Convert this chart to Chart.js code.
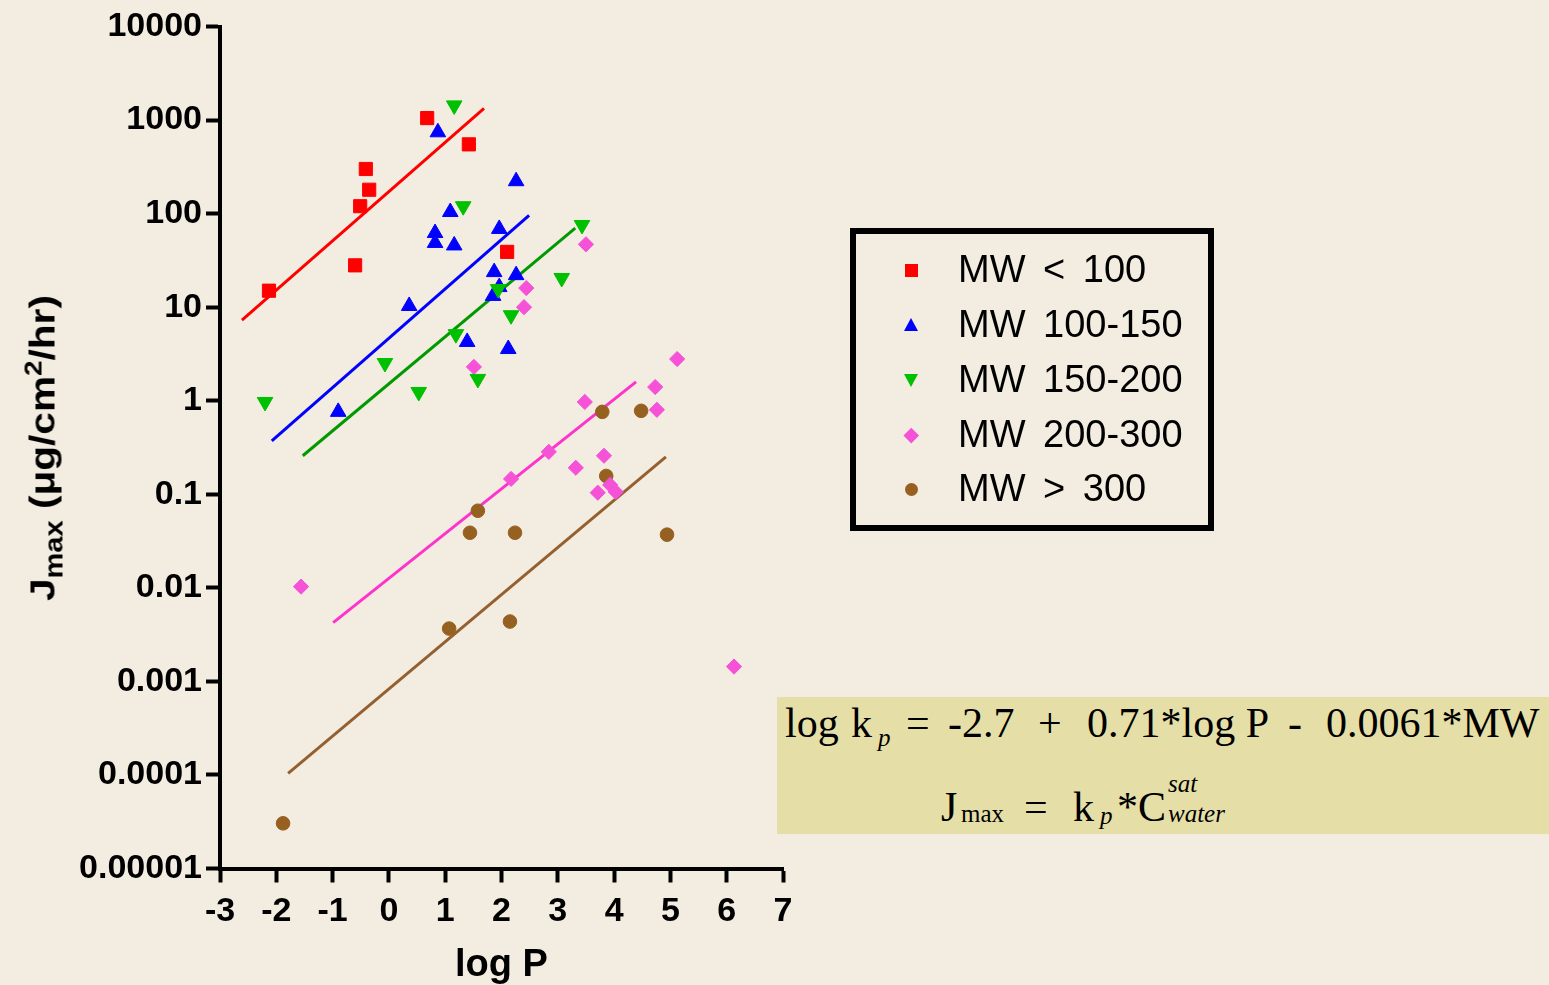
<!DOCTYPE html>
<html>
<head>
<meta charset="utf-8">
<script src="https://cdn.jsdelivr.net/npm/chart.js@4.4.1/dist/chart.umd.min.js"></script>
<style>
html,body{margin:0;padding:0;background:#f3ece0;}
#wrap{position:relative;width:1549px;height:985px;overflow:hidden;background:#f3ece0;}
#c{position:absolute;left:0;top:0;}
#ytitle{position:absolute;left:42px;top:448px;transform:translate(-50%,-50%) rotate(-90deg) scaleX(1.16);white-space:nowrap;
  font-family:"Liberation Sans",Arial,sans-serif;font-weight:bold;font-size:35px;color:#000;line-height:1;}
#ytitle .sub{font-size:25px;position:relative;top:8px;}
#ytitle .sup{font-size:24px;position:relative;top:-13px;}
#legend{position:absolute;left:850px;top:228px;width:352px;height:291px;border:6px solid #000;}
.li{position:absolute;left:0;width:352px;height:50px;}
.mk{position:absolute;}
.lt{position:absolute;left:102px;font-family:"Liberation Sans",Arial,sans-serif;font-size:38px;color:#000;white-space:pre;line-height:1;word-spacing:7px;}
#eq{position:absolute;left:777px;top:697px;width:772px;height:137px;background:#e5dfa7;}
#eq span{position:absolute;font-family:"Liberation Serif","Times New Roman",serif;color:#000;line-height:1;white-space:pre;}
.big{font-size:42px;}
.sm{font-size:25px;}
.it{font-style:italic;}
</style>
</head>
<body>
<div id="wrap">
<canvas id="c" width="1549" height="985"></canvas>
<div id="ytitle">J<span class="sub">max</span> (μg/cm<span class="sup">2</span>/hr)</div>
<div id="legend"></div>
<div id="eq">
  <span class="big" style="left:8px;top:5px">log</span>
  <span class="big" style="left:74px;top:5px">k</span>
  <span class="sm it" style="left:101px;top:28px">p</span>
  <span class="big" style="left:129px;top:5px">=</span>
  <span class="big" style="left:171px;top:5px">-2.7</span>
  <span class="big" style="left:261px;top:5px">+</span>
  <span class="big" style="left:310px;top:5px">0.71*log P</span>
  <span class="big" style="left:511px;top:5px">-</span>
  <span class="big" style="left:549px;top:5px">0.0061*MW</span>
  <span class="big" style="left:164px;top:89px">J</span>
  <span class="sm" style="left:184px;top:104px">max</span>
  <span class="big" style="left:247px;top:89px">=</span>
  <span class="big" style="left:296px;top:89px">k</span>
  <span class="sm it" style="left:323px;top:106px">p</span>
  <span class="big" style="left:340px;top:89px">*C</span>
  <span class="sm it" style="left:391px;top:74px">sat</span>
  <span class="sm it" style="left:391px;top:104px">water</span>
</div>
</div>
<script>
// ---------- data ----------
const SERIES_NAMES = ["MW < 100", "MW 100-150", "MW 150-200", "MW 200-300", "MW > 300"];

const MW100_X = [-2.13, -0.60, -0.51, -0.35, -0.41, 0.68, 1.42, 2.10];
const MW100_Y = [15, 28, 120, 180, 300, 1050, 550, 39];

const MW150_X = [0.87, 2.26, 1.09, 0.82, 0.82, 1.16, 1.96, 1.87, 2.26, 1.96, 1.85, 0.36, 1.39, 2.12, -0.90];
const MW150_Y = [740, 222, 104, 62, 48.6, 45.7, 68.6, 23.7, 22, 16.4, 13.2, 10.3, 4.25, 3.57, 0.76];

const MW200_X = [1.16, 1.32, 3.43, 3.07, 1.94, 2.17, 1.19, -0.07, -2.20, 0.53, 1.58];
const MW200_Y = [1435, 120, 75.6, 20.5, 15.6, 8.2, 5.15, 2.53, 0.97, 1.24, 1.71];

const MW300_X = [2.44, 2.40, 3.50, 1.51, 5.12, 4.73, 3.48, 4.76, 2.84, 3.82, 3.32, 2.17, 3.71, 3.93, 4.03, -1.56, 6.13];
const MW300_Y = [16.0, 10.0, 47, 2.3, 2.79, 1.40, 0.97, 0.80, 0.284, 0.258, 0.192, 0.146, 0.104, 0.126, 0.106, 0.0103, 0.00144];

const MWBIG_X = [3.79, 4.48, 3.86, 1.58, 1.44, 2.24, 4.94, 1.07, 2.15, -1.88];
const MWBIG_Y = [0.76, 0.78, 0.157, 0.0667, 0.0388, 0.0388, 0.037, 0.00367, 0.00436, 0.0000304];

// regression lines (end points)
const FIT100_X = [-2.61, 1.69];   const FIT100_Y = [7.28, 1333];
const FIT150_X = [-2.08, 2.49];   const FIT150_Y = [0.372, 96];
const FIT200_X = [-1.53, 3.31];   const FIT200_Y = [0.258, 69.9];
const FIT300_X = [-0.99, 4.39];   const FIT300_Y = [0.00425, 1.59];
const FITBIG_X = [-1.79, 4.92];   const FITBIG_Y = [0.000104, 0.251];

const X_MIN = -3, X_MAX = 7;
const Y_TICKS = [1e4, 1e3, 1e2, 1e1, 1, 0.1, 0.01, 0.001, 0.0001, 0.00001];
const Y_TICK_LABELS = ["10000", "1000", "100", "10", "1", "0.1", "0.01", "0.001", "0.0001", "0.00001"];

// ---------- styles ----------
const MARK_COLORS = ["#ff0000", "#0000ff", "#00c000", "#f552d8", "#956020"];
const LINE_COLORS = ["#ff0000", "#0000ff", "#009a00", "#ff33cc", "#956030"];
const STYLES = [
  {style: "rect", r: 9.3, rot: 0},
  {style: "triangle", r: 9.0, rot: 0},
  {style: "triangle", r: 9.0, rot: 180},
  {style: "rectRot", r: 7.6, rot: 0},
  {style: "circle", r: 6.8, rot: 0}
];

const SERIES = [
  [MW100_X, MW100_Y], [MW150_X, MW150_Y], [MW200_X, MW200_Y], [MW300_X, MW300_Y], [MWBIG_X, MWBIG_Y]
];
const FITS = [
  [FIT100_X, FIT100_Y], [FIT150_X, FIT150_Y], [FIT200_X, FIT200_Y], [FIT300_X, FIT300_Y], [FITBIG_X, FITBIG_Y]
];

const toPts = (xs, ys) => xs.map((x, i) => ({x: x, y: ys[i]}));

// point draw order: green above blue, pink above brown
const POINT_ORDER = [0, 2, 1, 3, 4];
const datasets = [];
POINT_ORDER.forEach(i => {
  const s = STYLES[i];
  datasets.push({
    label: SERIES_NAMES[i],
    data: toPts(SERIES[i][0], SERIES[i][1]),
    showLine: false,
    pointStyle: s.style,
    pointRadius: s.r,
    pointHoverRadius: s.r,
    pointRotation: s.rot,
    backgroundColor: MARK_COLORS[i],
    borderColor: MARK_COLORS[i],
    borderWidth: 1,
    order: 0
  });
});
FITS.forEach((f, i) => {
  datasets.push({
    label: "fit " + SERIES_NAMES[i],
    data: toPts(f[0], f[1]),
    showLine: true,
    pointRadius: 0,
    pointHoverRadius: 0,
    borderColor: LINE_COLORS[i],
    borderWidth: 3,
    fill: false,
    tension: 0,
    order: 1
  });
});

const tickFont = {family: "'Liberation Sans', Arial, sans-serif", weight: "bold", size: 34};

new Chart(document.getElementById("c"), {
  type: "scatter",
  data: {datasets: datasets},
  options: {
    responsive: false,
    animation: false,
    devicePixelRatio: 1,
    layout: {padding: {left: 0, top: 26.5, right: 766, bottom: 0}},
    plugins: {legend: {display: false}, tooltip: {enabled: false}},
    scales: {
      x: {
        type: "linear", min: X_MIN, max: X_MAX,
        ticks: {stepSize: 1, font: tickFont, color: "#000", padding: 9},
        grid: {display: true, drawOnChartArea: false, drawTicks: true, tickLength: 14, tickWidth: 4, tickColor: "#000", color: "#000"},
        border: {display: true, width: 4, color: "#000"},
        title: {display: true, text: "log P", color: "#000",
          font: {family: "'Liberation Sans', Arial, sans-serif", weight: "bold", size: 38, lineHeight: 1},
          padding: {top: 0, bottom: 0}},
        afterFit: s => { s.height = 116.5; }
      },
      y: {
        type: "logarithmic", min: 0.00001, max: 10000,
        afterBuildTicks: s => { s.ticks = Y_TICKS.map(v => ({value: v})); },
        ticks: {autoSkip: false, font: tickFont, color: "#000", padding: 4,
          callback: (v, idx) => Y_TICK_LABELS[idx]},
        grid: {display: true, drawOnChartArea: false, drawTicks: true, tickLength: 14, tickWidth: 4, tickColor: "#000", color: "#000"},
        border: {display: true, width: 4, color: "#000"},
        afterFit: s => { s.width = 220; }
      }
    }
  }
});

// ---------- legend (HTML) ----------
const legend = document.getElementById("legend");
const ROW_CENTERS = [36, 91, 146, 201, 255]; // marker centres inside the box
SERIES_NAMES.forEach((name, i) => {
  const row = document.createElement("div");
  row.className = "li";
  row.style.top = (ROW_CENTERS[i] - 25) + "px";
  const mk = document.createElement("div");
  mk.className = "mk";
  const c = MARK_COLORS[i];
  const cx = 55, cy = 25;
  if (i === 0) {
    Object.assign(mk.style, {width: "13px", height: "13px", background: c, left: (cx - 6.5) + "px", top: (cy - 6.5) + "px"});
  } else if (i === 1) {
    Object.assign(mk.style, {width: 0, height: 0, borderLeft: "7.5px solid transparent", borderRight: "7.5px solid transparent",
      borderBottom: "13px solid " + c, left: (cx - 7.5) + "px", top: (cy - 7) + "px"});
  } else if (i === 2) {
    Object.assign(mk.style, {width: 0, height: 0, borderLeft: "7.5px solid transparent", borderRight: "7.5px solid transparent",
      borderTop: "13px solid " + c, left: (cx - 7.5) + "px", top: (cy - 6) + "px"});
  } else if (i === 3) {
    Object.assign(mk.style, {width: "10.5px", height: "10.5px", background: c, transform: "rotate(45deg)", left: (cx - 5.25) + "px", top: (cy - 5.25) + "px"});
  } else {
    Object.assign(mk.style, {width: "13px", height: "13px", borderRadius: "50%", background: c, left: (cx - 6.5) + "px", top: (cy - 6.5) + "px"});
  }
  row.appendChild(mk);
  const t = document.createElement("div");
  t.className = "lt";
  t.textContent = name;
  t.style.top = "5px";
  row.appendChild(t);
  legend.appendChild(row);
});
</script>
</body>
</html>
